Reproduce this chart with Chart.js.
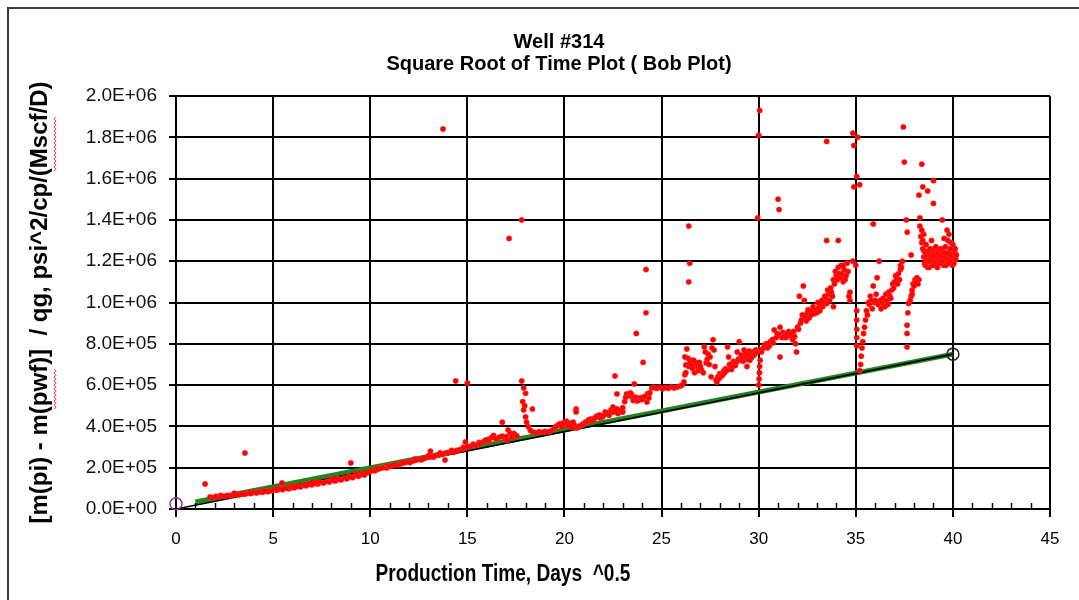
<!DOCTYPE html>
<html>
<head>
<meta charset="utf-8">
<title>Well #314</title>
<script src="https://cdn.jsdelivr.net/npm/chart.js@4.4.1/dist/chart.umd.min.js"></script>
<style>
  html, body { margin: 0; padding: 0; background: #fff; }
  canvas { display: block; }
</style>
</head>
<body>
<canvas id="bobPlot" width="1079" height="600"></canvas>
<script>
// sqrt(days), normalized pressure  [m(pi)-m(pwf)]/qg
var flow1 = [
  [1.75,58000],[1.9,55000],[2.05,61000],[2.2,59000],[2.3,66000],[2.35,63000],[2.5,61000],[2.65,66000],[2.8,64000],
  [2.95,69000],[3.0,76000],[3.1,71000],[3.25,69000],[3.4,74000],[3.55,72000],[3.7,77000],[3.8,82000],[3.85,75000],[4.0,80000],
  [4.15,78000],[4.3,83000],[4.45,81000],[4.5,90000],[4.6,86000],[4.75,84000],[4.9,89000],[5.05,93000],[5.2,91000],[5.2,99000],
  [5.35,97000],[5.46,126000],[5.5,94000],[5.65,101000],[5.8,98000],[5.9,103000],[5.95,106000],[6.0,113000],[6.1,103000],
  [6.25,110000],[6.4,107000],[6.55,115000],[6.6,119000],[6.7,112000],[6.85,120000],[7.0,117000],[7.0,128000],[7.15,124000],
  [7.3,121000],[7.3,130000],[7.45,129000],[7.6,126000],[7.75,134000],[7.9,131000],[8.0,146000],[8.05,139000],[8.2,136000],
  [8.3,148000],[8.35,144000],[8.5,141000],[8.65,150000],[8.8,146000],[8.9,157000],[8.95,156000],[9.0,223000],[9.1,152000],
  [9.25,162000],[9.3,172000],[9.4,158000],[9.55,168000],[9.6,174000],[9.7,165000],[9.85,176000],[10.0,182000],[10.1,188000],
  [10.25,185000],[10.3,196000],[10.4,193000],[10.55,197000],[10.7,201000],[10.85,199000],[10.9,209000],[11.0,207000],
  [11.15,211000],[11.3,214000],[11.45,212000],[11.6,220000],[11.65,227000],[11.75,224000],[11.9,227000],[12.05,225000],
  [12.2,233000],[12.3,242000],[12.35,236000],[12.5,240000],[12.65,238000],[12.8,246000],[12.95,250000],[13.0,258000],
  [13.1,253000],[13.1,280000],[13.25,251000],[13.4,259000],[13.55,262000],[13.6,272000],[13.7,266000],[13.85,237000],
  [13.85,270000],[14.0,273000],[14.15,277000],[14.2,284000],[14.3,275000],[14.45,283000],[14.6,287000],[14.75,291000],
  [14.8,299000],[14.9,325000],[14.9,296000],[15.05,300000],[15.2,305000],[15.3,314000],[15.35,311000],[15.5,308000],
  [15.6,322000],[15.65,318000],[15.8,324000],[15.9,330000],[15.95,334000],[16.1,328000],[16.1,338000],[16.25,346000],
  [16.35,356000],[16.4,345000],[16.5,340000],[16.65,348000],[16.8,420000],[16.8,352000],[16.95,338000],[17.0,350000],
  [17.05,332000],[17.1,383000],[17.2,368000],[17.3,348000],[17.4,366000],[17.45,360000],[17.55,354000]
];

var flow2 = [
  [17.8,620000],[17.9,586000],[18.0,560000],[17.85,520000],[17.95,500000],[18.35,484000],[17.9,480000],[18.0,446000],
  [18.05,420000],[18.15,397000],[18.25,380000],[18.4,372000],[18.55,370000],[18.7,374000],[18.85,371000],[19.0,376000],
  [19.15,373000],[19.3,378000],[19.45,388000],[19.55,398000],[19.65,405000],[19.75,412000],[19.85,400000],[19.95,418000],
  [20.05,410000],[20.1,425000],[20.15,415000],[20.2,402000],[20.3,415000],[20.35,405000],[20.4,395000],[20.45,420000],
  [20.5,408000],[20.6,484000],[20.6,470000],[20.65,392000],[20.7,398000],[20.8,402000],[20.9,405000],[20.95,412000],
  [21.05,415000],[21.1,422000],[21.2,425000],[21.25,432000],[21.35,436000],[21.4,426000],[21.5,432000],[21.55,440000],
  [21.65,450000],[21.7,446000],[21.8,455000],[21.85,441000],[21.95,445000],[22.0,452000],[22.1,470000],[22.15,460000],
  [22.25,465000],[22.3,454000],[22.4,480000],[22.45,468000],[22.5,494000],[22.55,470000],[22.6,476000],[22.7,485000],
  [22.75,462000],[22.85,470000],[22.9,478000],[23.0,470000],[23.0,490000],[22.6,644000],[22.7,557000],[23.1,520000],
  [23.15,540000],[23.2,557000],[23.3,548000],[23.4,562000],[23.45,555000],[23.5,540000],[23.55,525000],[23.6,542000],
  [23.6,605000],[23.7,540000],[23.75,523000],[23.85,528000],[23.9,538000],[24.0,530000],[24.05,542000],[24.05,710000],
  [24.15,545000],[24.25,518000],[24.3,560000],[24.35,538000],[24.4,562000],[24.5,586000],[24.6,590000],[24.75,584000],
  [24.9,590000],[25.05,582000],[25.2,588000],[25.35,585000],[25.5,592000],[25.65,586000],[25.8,590000],[25.95,595000],
  [26.05,600000],[26.15,615000],[26.2,650000],[26.2,736000],[26.25,660000],[26.25,697000],[26.3,775000],[26.35,730000],
  [26.4,690000],[26.45,705000],[26.5,720000],[26.55,695000],[26.6,680000],[26.65,720000],[26.7,660000],[26.8,707000],
  [26.85,690000],[26.9,670000],[26.95,710000],[27.0,690000],[27.05,675000],[27.15,660000],[27.2,785000],[27.25,760000],
  [27.3,707000],[27.35,725000],[27.4,750000],[27.45,700000],[27.5,736000],[27.55,640000],[27.6,780000],[27.65,820000],
  [27.7,770000],[27.75,690000],[27.8,625000],[27.85,615000],[27.9,640000],[27.95,630000],[28.0,655000],[28.05,640000],
  [28.1,645000],[28.15,650000],[28.2,670000],[28.25,660000],[28.3,680000],[28.35,670000],[28.4,785000],[28.45,736000],
  [28.5,700000],[28.55,685000],[28.6,675000],[28.65,690000],[28.7,715000],[28.75,700000],[28.8,695000],[28.85,710000],
  [28.9,760000],[28.95,725000],[29.0,810000],[29.05,720000],[29.1,745000],[29.15,730000],[29.2,715000],[29.25,770000],
  [29.3,750000],[29.35,735000],[29.4,725000],[29.4,690000],[29.45,745000],[29.5,765000],[29.55,720000],[29.6,755000],
  [29.65,735000],[29.7,760000],[29.75,745000],[29.8,750000],[29.85,770000],[29.9,760000]
];

var flow3 = [
  [30.0,600000],[30.02,630000],[30.04,660000],[30.05,690000],[30.08,720000],[30.1,770000],[30.15,760000],[30.25,780000],
  [30.3,795000],[30.4,800000],[30.45,780000],[30.55,790000],[30.6,810000],[30.7,820000],[30.75,805000],[30.8,867000],
  [30.9,830000],[30.95,850000],[31.0,845000],[31.1,880000],[31.1,736000],[31.2,830000],[31.25,855000],[31.35,845000],
  [31.4,830000],[31.45,850000],[31.55,860000],[31.6,840000],[31.65,845000],[31.7,830000],[31.75,820000],[31.8,860000],
  [31.85,835000],[31.9,800000],[31.95,760000],[32.0,880000],[32.05,870000],[32.1,1030000],[32.15,900000],[32.2,915000],
  [32.25,940000],[32.3,1080000],[32.35,1010000],[32.4,930000],[32.45,910000],[32.5,950000],[32.55,965000],[32.6,925000],
  [32.7,940000],[32.75,960000],[32.8,980000],[32.85,945000],[32.95,965000],[33.0,950000],[33.05,1000000],[33.1,975000],
  [33.15,960000],[33.2,990000],[33.25,1010000],[33.3,980000],[33.35,995000],[33.4,1030000],[33.45,1020000],[33.5,995000],
  [33.55,1060000],[33.6,1040000],[33.65,1010000],[33.7,1070000],[33.75,1050000],[33.8,1030000],[33.85,980000],
  [33.85,1110000],[33.9,1090000],[33.95,1150000],[34.0,1130000],[34.05,1110000],[34.1,1170000],[34.15,1140000],
  [34.2,1120000],[34.25,1180000],[34.3,1140000],[34.35,1180000],[34.35,1100000],[34.4,1160000],[34.45,1110000],
  [34.5,1130000],[34.55,1190000],[34.6,1150000],[34.65,1030000],[34.7,1050000],[34.7,1010000],[34.85,1200000],[35.0,1180000]
];

var flow4 = [
  [35.05,960000],[35.05,915000],[35.05,870000],[35.05,830000],[35.05,790000],[35.2,670000],[35.25,700000],[35.28,740000],
  [35.32,780000],[35.36,810000],[35.4,850000],[35.45,880000],[35.5,915000],[35.55,960000],[35.6,940000],[35.65,1000000],
  [35.7,990000],[35.75,1030000],[35.8,1010000],[35.85,970000],[35.9,1080000],[35.95,1000000],[36.0,1010000],[36.05,1040000],
  [36.1,1120000],[36.15,990000],[36.2,1200000],[36.25,1010000],[36.3,970000],[36.35,1000000],[36.4,1020000],[36.45,990000],
  [36.5,980000],[36.55,1040000],[36.6,1010000],[36.65,990000],[36.7,1050000],[36.75,1030000],[36.8,1020000],[36.85,1060000],
  [36.9,1090000],[36.95,1070000],[37.0,1100000],[37.05,1130000],[37.1,1120000],[37.15,1090000],[37.2,1140000],[37.25,1110000],
  [37.3,1160000],[37.3,1180000],[37.35,1170000],[37.4,1200000]
];

var flow5 = [
  [37.64,785000],[37.64,850000],[37.64,890000],[37.68,950000],[37.72,995000],[37.8,1010000],[37.85,1030000],[37.9,1060000],
  [37.9,1040000],[37.95,1090000],[38.0,1080000],[38.05,1110000],[38.1,1100000],[38.15,1120000],[38.2,1090000],[38.25,1110000],
  [37.85,1230000],[38.3,1410000],[38.3,1370000],[38.35,1320000],[38.4,1290000],[38.4,1350000],[38.45,1260000],[38.45,1300000],
  [38.5,1220000],[38.5,1330000],[38.52,1250000],[38.55,1190000],[38.58,1180000],[38.6,1240000],[38.62,1280000],[38.65,1210000],
  [38.68,1230000],[38.7,1170000],[38.72,1200000],[38.75,1250000],[38.78,1170000],[38.8,1200000],[38.82,1260000],[38.85,1230000],
  [38.88,1220000],[38.9,1300000],[38.92,1190000],[38.95,1180000],[38.98,1250000],[39.0,1220000],[39.02,1180000],[39.05,1260000],
  [39.08,1230000],[39.1,1200000],[39.12,1270000],[39.15,1240000],[39.18,1210000],[39.2,1170000],[39.22,1240000],[39.25,1210000],
  [39.28,1190000],[39.3,1250000],[39.32,1220000],[39.35,1190000],[39.38,1260000],[39.4,1230000],[39.42,1200000],[39.45,1400000],
  [39.48,1240000],[39.5,1260000],[39.52,1180000],[39.55,1200000],[39.55,1310000],[39.58,1220000],[39.6,1240000],[39.62,1270000],
  [39.65,1180000],[39.68,1210000],[39.7,1350000],[39.72,1240000],[39.75,1220000],[39.75,1300000],[39.78,1190000],[39.8,1330000],
  [39.82,1230000],[39.85,1250000],[39.88,1260000],[39.9,1200000],[39.9,1290000],[39.92,1220000],[39.95,1230000],[39.98,1180000],
  [40.0,1280000],[40.02,1240000],[40.05,1190000],[40.08,1210000],[40.1,1240000],[40.12,1260000],[40.15,1210000],[40.18,1230000]
];

var spikes = [
  [1.5,121000],[3.55,271000],[13.75,1840000],[14.4,620000],[15.0,610000],[17.15,1310000],[17.8,1400000],
  [24.2,1160000],[23.7,850000],[24.2,950000],[26.4,1370000],[26.45,1190000],[26.4,1100000],
  [30.05,1930000],[30.0,1810000],[29.95,1410000],[31.0,1500000],[31.05,1450000],[33.5,1780000],[33.5,1300000],
  [34.1,1300000],[34.85,1820000],[35.1,1800000],[34.9,1760000],[35.05,1610000],[34.9,1560000],[35.2,1570000],
  [35.9,1380000],[37.45,1850000],[37.5,1680000],[38.4,1670000],[39.0,1590000],[38.45,1560000],[38.7,1540000],
  [38.25,1520000],[39.0,1480000],[37.6,1400000],[37.65,1340000]
];

// straight-line fit and its extension back to zero
var fitX = [1, 40];
var fitY = [34000, 750000];
var trendX = [0, 40];
var trendY = [0, 750000];
var startPoint = [0, 25000];
var endPoint = [40, 750000];

var xTicks = { min: 0, max: 45, step: 5 };
var yTicks = { min: 0, max: 2000000, step: 200000 };

function toXY(pairs) {
  return pairs.map(function (p) { return { x: p[0], y: p[1] }; });
}
function zip(xs, ys) {
  return xs.map(function (x, i) { return { x: x, y: ys[i] }; });
}
function sci(v) {
  if (Math.abs(v) < 1e-9) return '0.0E+00';
  var e = Math.floor(Math.log10(v) + 1e-9);
  var m = v / Math.pow(10, e);
  return m.toFixed(1) + 'E+' + (e < 10 ? '0' + e : e);
}

var redPoints = toXY([].concat(flow1, flow2, flow3, flow4, flow5, spikes));

var yTitle = '[m(pi) - m(pwf)]  / qg, psi^2/cp/(Mscf/D)';
var yTitleFont = 'bold 24px "Liberation Sans", Arial, sans-serif';
var xTitle = 'Production Time, Days  ^0.5';

// frame round the whole chart, x title, minor ticks, spell-check squiggles
var extras = {
  id: 'extras',
  beforeDraw: function (chart) {
    var ctx = chart.ctx;
    ctx.save();
    ctx.fillStyle = '#fff';
    ctx.fillRect(0, 0, chart.width, chart.height);
    ctx.strokeStyle = '#3a3a3a';
    ctx.lineWidth = 2;
    ctx.strokeRect(8, 8, 1100, 620);
    ctx.restore();
  },
  afterDraw: function (chart) {
    var ctx = chart.ctx;
    var xs = chart.scales.x;
    var bottom = chart.chartArea.bottom;
    ctx.save();
    // condensed bold x title
    ctx.save();
    ctx.translate(503, 575);
    ctx.scale(0.83, 1);
    ctx.fillStyle = '#000';
    ctx.font = 'bold 23px "Liberation Sans", Arial, sans-serif';
    ctx.textAlign = 'center';
    ctx.textBaseline = 'middle';
    ctx.fillText(xTitle, 0, 0);
    ctx.restore();

    ctx.strokeStyle = '#000';
    ctx.lineWidth = 1.5;
    for (var i = xTicks.min + 1; i < xTicks.max; i++) {
      if (i % xTicks.step === 0) continue;
      var px = Math.round(xs.getPixelForValue(i)) + 0.5;
      ctx.beginPath();
      ctx.moveTo(px, bottom - 6);
      ctx.lineTo(px, bottom);
      ctx.stroke();
    }
    // red wavy underline below two words of the y title
    ctx.translate(40, (chart.chartArea.top + chart.chartArea.bottom) / 2 + 3);
    ctx.rotate(-Math.PI / 2);
    ctx.font = yTitleFont;
    var total = ctx.measureText(yTitle).width;
    ['pwf', 'Mscf'].forEach(function (word) {
      var idx = yTitle.indexOf(word);
      var x0 = -total / 2 + ctx.measureText(yTitle.slice(0, idx)).width;
      var w = ctx.measureText(word).width;
      ctx.strokeStyle = '#ff2020';
      ctx.lineWidth = 1;
      ctx.beginPath();
      for (var k = 0; k <= w; k += 2) {
        var yy = 14 + ((k / 2) % 2 === 0 ? 0 : 2);
        if (k === 0) ctx.moveTo(x0 + k, yy); else ctx.lineTo(x0 + k, yy);
      }
      ctx.stroke();
    });
    ctx.restore();
  }
};

var ctx = document.getElementById('bobPlot').getContext('2d');
new Chart(ctx, {
  type: 'scatter',
  data: {
    datasets: [
      {
        data: redPoints,
        backgroundColor: '#ff0000',
        borderColor: '#ff3030',
        borderWidth: 0.5,
        pointRadius: 2.7,
        order: 0
      },
      {
        data: zip(trendX, trendY),
        showLine: true,
        borderColor: '#000',
        borderWidth: 1.6,
        pointRadius: 0,
        order: 1
      },
      {
        data: zip(fitX, fitY),
        showLine: true,
        borderColor: '#1f861f',
        borderWidth: 5,
        pointRadius: 0,
        order: 2
      },
      {
        data: [{ x: startPoint[0], y: startPoint[1] }],
        pointRadius: 6,
        pointBorderWidth: 1.5,
        pointBorderColor: '#9a2f9a',
        pointBackgroundColor: 'rgba(0,0,0,0)',
        clip: false,
        order: -1
      },
      {
        data: [{ x: endPoint[0], y: endPoint[1] }],
        pointRadius: 6,
        pointBorderWidth: 1.5,
        pointBorderColor: '#222',
        pointBackgroundColor: 'rgba(0,0,0,0)',
        clip: false,
        order: -1
      }
    ]
  },
  options: {
    responsive: false,
    animation: false,
    layout: { padding: { left: 68, right: 29, top: 0, bottom: 0 } },
    plugins: {
      legend: { display: false },
      tooltip: { enabled: false },
      title: {
        display: true,
        text: ['Well #314', 'Square Root of Time Plot ( Bob Plot)'],
        color: '#000',
        font: { family: '"Liberation Sans", Arial, sans-serif', size: 20, weight: 'bold', lineHeight: 1.1 },
        padding: { top: 31, bottom: 21 }
      }
    },
    scales: {
      x: {
        type: 'linear',
        min: xTicks.min,
        max: xTicks.max,
        ticks: {
          stepSize: xTicks.step,
          color: '#000',
          padding: 12,
          maxRotation: 0,
          font: { family: '"Liberation Sans", Arial, sans-serif', size: 17 }
        },
        grid: { color: '#000', lineWidth: 2, tickLength: 8 },
        border: { color: '#000', width: 2 },
        afterFit: function (s) { s.height = 91; }
      },
      y: {
        type: 'linear',
        min: yTicks.min,
        max: yTicks.max,
        ticks: {
          stepSize: yTicks.step,
          color: '#111',
          padding: 12,
          font: { family: '"Liberation Sans", Arial, sans-serif', size: 19 },
          callback: function (v) { return sci(v); }
        },
        grid: { color: '#000', lineWidth: 2, tickLength: 7 },
        border: { color: '#000', width: 2 },
        title: {
          display: true,
          text: yTitle,
          color: '#000',
          font: { family: '"Liberation Sans", Arial, sans-serif', size: 24, weight: 'bold', lineHeight: 1.2 },
          padding: { top: -42, bottom: 0 }
        },
        afterFit: function (s) { s.width = 108; }
      }
    }
  },
  plugins: [extras]
});
</script>
</body>
</html>
